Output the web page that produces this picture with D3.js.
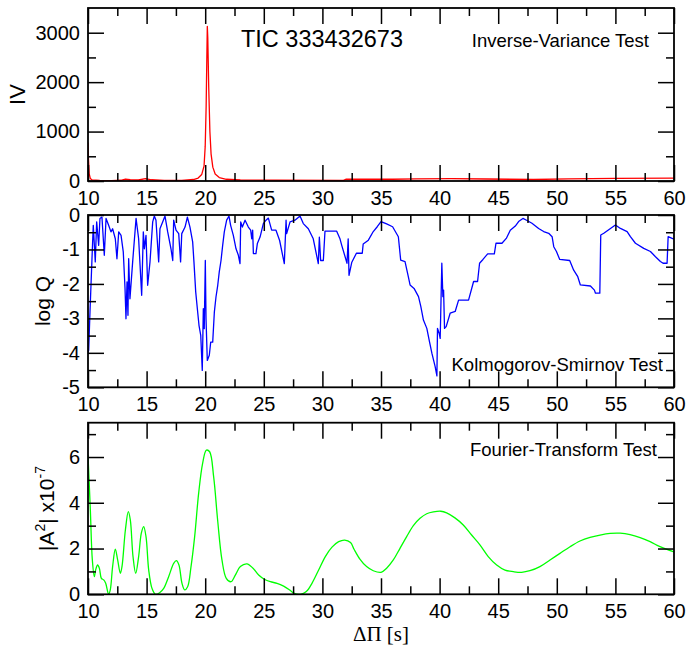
<!DOCTYPE html>
<html>
<head>
<meta charset="utf-8">
<script src="https://cdn.jsdelivr.net/npm/d3@7"></script>
<style>
  html, body { margin: 0; padding: 0; background: #fff; }
  svg { display: block; font-family: "Liberation Sans", Arial, Helvetica, sans-serif; }
</style>
</head>
<body>
<svg id="chart" width="688" height="650"></svg>
<script>
// ---------- data ----------
const xTicksMajor = [10, 15, 20, 25, 30, 35, 40, 45, 50, 55, 60];
const xTicksMinor = [12.5, 17.5, 22.5, 27.5, 32.5, 37.5, 42.5, 47.5, 52.5, 57.5];

const ivTicksMajor = [0, 1000, 2000, 3000];
const ivTicksMinor = [500, 1500, 2500];
const ksTicksMajor = [0, -1, -2, -3, -4, -5];
const ksTicksMinor = [-0.5, -1.5, -2.5, -3.5, -4.5];
const ftTicksMajor = [0, 2, 4, 6];
const ftTicksMinor = [1, 3, 5, 7];

// Inverse-variance test
const ivX = [10.0, 10.04, 10.1, 10.2, 10.35, 11, 12, 12.8, 13.2, 13.6, 14.3, 14.9, 15.4, 16.5, 18, 19, 19.4, 19.7, 19.9,
  20.0, 20.08, 20.14, 20.18, 20.22, 20.3, 20.4, 20.5, 20.65, 20.85, 21.2, 21.8, 23, 26, 31.8, 32.0, 36, 38, 41, 44, 48, 51, 55, 60];
const ivY = [780, 450, 150, 50, 20, 12, 8, 15, 40, 25, 20, 50, 25, 10, 12, 30, 60, 130, 300,
  700, 1500, 2500, 3130, 2900, 1900, 1000, 550, 280, 140, 70, 35, 20, 15, 12, 35, 35, 45, 50, 40, 30, 45, 55, 60];

// Kolmogorov-Smirnov test (log Q)
const ksX = [10.0, 10.06, 10.17, 10.34, 10.45, 10.62, 10.74, 10.91, 11.02, 11.19, 11.39, 11.54, 11.76, 11.96, 12.1, 12.33, 12.47, 12.62, 12.82,
  13.01, 13.16, 13.24, 13.33, 13.41, 13.47, 13.58, 13.81, 14.1, 14.32, 14.58, 14.72, 14.81, 14.95, 15.09, 15.29, 15.52, 15.66, 15.8,
  16.03, 16.14, 16.37, 16.57, 16.8, 17.08, 17.23, 17.31, 17.51, 17.74, 17.9, 18.0, 18.28, 18.48, 18.7, 18.93, 19.04, 19.19, 19.33,
  19.47, 19.62, 19.75, 19.84, 19.92, 20.01, 20.07, 20.18, 20.35, 20.47, 20.64, 20.78, 20.92, 21.07, 21.2, 21.35, 21.49, 21.63, 21.83,
  22.03, 22.17, 22.4, 22.63, 22.83, 22.97, 23.03, 23.17, 23.4, 23.68, 23.88, 23.97, 24.05, 24.11, 24.33, 24.45, 24.68, 24.96, 25.19,
  25.39, 25.67, 26.04, 26.35, 26.75, 26.9, 26.95, 27.24, 27.66, 28.09, 28.37, 28.8, 29.22, 29.65, 29.74, 29.85, 30.08, 30.22, 31.22,
  31.49, 31.65, 32.1, 32.2, 32.27, 32.5, 32.9, 33.4, 33.48, 33.92, 34.34, 34.68, 35.0, 35.48, 35.99, 36.48, 36.68, 37.05, 37.33, 37.48,
  37.82, 38.2, 38.4, 38.62, 38.91, 39.14, 39.34, 39.62, 39.77, 39.82, 39.96, 40.05, 40.19, 40.28, 40.34, 40.42, 40.56, 40.9, 41.33,
  41.62, 42.47, 42.9, 43.24, 43.41, 43.7, 44.1, 44.67, 44.81, 45.32, 45.69, 46.03, 46.46, 46.74, 47.11, 47.46, 47.88, 48.45, 48.88,
  49.31, 49.6, 49.74, 49.97, 50.25, 51.1, 51.44, 51.79, 52.01, 52.87, 53.21, 53.3, 53.67, 53.75, 54.01, 54.58, 55.0, 55.43, 56.0,
  56.28, 56.71, 57.42, 57.99, 58.42, 58.84, 59.07, 59.41, 59.5, 60.0];
const ksY = [-4.0, -3.92, -2.81, -1.27, -0.3, -1.36, -0.2, -0.88, -0.1, -0.06, -1.17, -0.1, -0.3, -0.49, -0.4, -0.69, -1.27, -0.49, -0.59,
  -1.07, -2.14, -3.01, -1.94, -2.91, -1.27, -2.43, -1.36, -0.1, -0.69, -2.33, -0.49, -0.98, -0.59, -2.04, -1.36, -0.2, -0.03, -0.15,
  -1.36, -0.4, -0.2, -0.03, -0.49, -0.98, -1.32, -0.15, -0.44, -0.54, -1.36, -0.54, -0.35, -0.06, -0.35, -0.78, -1.36, -2.23, -2.72,
  -3.2, -3.49, -4.51, -2.72, -3.3, -1.32, -3.01, -4.22, -4.07, -3.69, -3.69, -2.82, -2.38, -2.04, -1.65, -1.32, -0.88, -0.49, -0.15,
  -0.03, -0.3, -0.59, -0.98, -1.17, -1.41, -0.2, -0.35, -0.15, -0.35, -0.44, -0.69, -0.44, -1.12, -1.12, -0.83, -0.64, -0.25, -0.15,
  -0.09, -0.44, -0.44, -0.74, -1.41, -0.15, -0.54, -0.2, -0.15, -0.03, -0.25, -0.4, -0.69, -1.41, -0.64, -1.32, -1.32, -0.47, -0.47,
  -0.68, -0.88, -1.4, -0.69, -1.75, -1.38, -1.11, -1.11, -0.84, -0.73, -0.48, -0.34, -0.19, -0.26, -0.34, -0.63, -1.31, -1.35, -1.79, -2.03,
  -2.13, -2.37, -2.66, -3.05, -3.29, -3.68, -4.01, -4.4, -4.67, -3.29, -3.43, -3.58, -1.4, -2.37, -2.18, -3.29, -3.24, -2.85, -2.8,
  -2.47, -2.47, -1.93, -1.93, -1.4, -1.29, -1.13, -1.13, -0.82, -0.82, -0.68, -0.44, -0.32, -0.19, -0.1, -0.16, -0.24, -0.39, -0.48,
  -0.53, -0.63, -0.92, -1.06, -1.29, -1.32, -1.6, -1.79, -2.03, -2.06, -2.18, -2.27, -2.27, -0.58, -0.53, -0.39, -0.29, -0.39, -0.48,
  -0.63, -0.82, -0.97, -1.06, -1.21, -1.35, -1.4, -1.4, -0.63, -0.7];

// Fourier-transform test (|A^2| x 1e-7)
const ftX = [10.0, 10.2, 10.37, 10.54, 10.65, 10.82, 10.97, 11.14, 11.34, 11.51, 11.76, 11.9, 12.1, 12.33, 12.53, 12.76, 12.9, 13.19,
  13.44, 13.61, 13.84, 14.07, 14.32, 14.55, 14.75, 14.95, 15.18, 15.46, 15.75, 16.11, 16.46, 16.88, 17.31, 17.54, 17.76, 18.02, 18.25,
  18.5, 18.79, 19.1, 19.44, 19.78, 20.1, 20.38, 20.72, 21.06, 21.43, 21.8, 22.2, 22.57, 23.0, 23.56, 24.08, 24.56, 25.04, 25.56, 26.13,
  26.69, 27.21, 27.6, 28.12, 28.63, 29.11, 29.68, 30.25, 30.82, 31.39, 31.9, 32.4, 32.7, 33.2, 33.77, 34.34, 35.0, 35.48, 36.05,
  36.62, 37.19, 37.76, 38.33, 38.9, 39.47, 40.1, 40.6, 41.31, 42.02, 42.73, 43.44, 44.15, 44.87, 45.58, 46.29, 47.0, 47.71, 48.56,
  49.42, 50.27, 51.13, 51.98, 52.84, 53.69, 54.55, 55.4, 56.25, 57.11, 57.96, 58.81, 60.0];
const ftY = [6.09, 3.68, 1.5, 0.77, 1.06, 1.28, 1.14, 0.7, 0.63, 0.48, 0.0, 0.19, 1.21, 1.97, 1.5, 0.92, 1.21, 2.81,
  3.61, 3.25, 1.65, 0.92, 1.65, 2.67, 2.96, 2.52, 1.06, 0.26, 0.0, 0.07, 0.26, 0.77, 1.35, 1.47, 1.28, 0.48, 0.19,
  0.33, 1.21, 2.52, 4.41, 5.72, 6.3, 6.23, 5.14, 3.25, 1.5, 0.7, 0.55, 0.84, 1.21, 1.33, 1.14, 0.84, 0.66, 0.55, 0.48,
  0.36, 0.19, 0.04, 0.0, 0.12, 0.48, 1.06, 1.65, 2.06, 2.3, 2.37, 2.26, 1.97, 1.54, 1.21, 1.03, 0.96, 1.14, 1.5,
  2.01, 2.52, 3.0, 3.32, 3.52, 3.6, 3.63, 3.56, 3.34, 3.03, 2.59, 2.16, 1.65, 1.28, 1.06, 0.99, 0.96, 1.03, 1.21,
  1.5, 1.79, 2.08, 2.33, 2.49, 2.59, 2.66, 2.67, 2.61, 2.48, 2.3, 2.08, 1.85];

// ---------- layout ----------
const L = 88, R = 674;
const svg = d3.select("#chart");
const x = d3.scaleLinear().domain([10, 60]).range([L, R]);
const fmt = d => String(d);

const panels = [
  { top: 8, bottom: 181, domain: [0, 3500], major: ivTicksMajor, minor: ivTicksMinor,
    xs: ivX, ys: ivY, color: "#ff0000", curve: d3.curveLinear },
  { top: 215, bottom: 387.3, domain: [-5, 0], major: ksTicksMajor, minor: ksTicksMinor,
    xs: ksX, ys: ksY, color: "#0000ff", curve: d3.curveLinear },
  { top: 422.7, bottom: 594.3, domain: [0, 7.5], major: ftTicksMajor, minor: ftTicksMinor,
    xs: ftX, ys: ftY, color: "#00ff00", curve: d3.curveCatmullRom.alpha(0.5) }
];

panels.forEach((p, i) => {
  const y = d3.scaleLinear().domain(p.domain).range([p.bottom, p.top]);
  const g = svg.append("g");
  const clipId = "clip" + i;
  svg.append("clipPath").attr("id", clipId).append("rect")
    .attr("x", L).attr("y", p.top).attr("width", R - L).attr("height", p.bottom - p.top);

  // data line
  const pts = p.xs.map((v, k) => [v, p.ys[k]]);
  g.append("path")
    .datum(pts)
    .attr("clip-path", `url(#${clipId})`)
    .attr("fill", "none")
    .attr("stroke", p.color)
    .attr("stroke-width", 1.3)
    .attr("stroke-linejoin", "round")
    .attr("d", d3.line().x(d => x(d[0])).y(d => y(d[1])).curve(p.curve));

  const styleAxis = sel => {
    sel.select(".domain").remove();
    sel.selectAll("line").attr("stroke", "#000").attr("stroke-width", 1.5);
    sel.selectAll("text").attr("fill", "#000").attr("font-size", 20)
      .attr("font-family", "'Liberation Sans', Arial, sans-serif");
  };

  // bottom axis (labels)
  g.append("g").attr("transform", `translate(0,${p.bottom})`)
    .call(d3.axisBottom(x).tickValues(xTicksMajor).tickSize(-16).tickPadding(10).tickFormat(fmt))
    .call(styleAxis);
  g.append("g").attr("transform", `translate(0,${p.bottom})`)
    .call(d3.axisBottom(x).tickValues(xTicksMinor).tickSize(-8).tickFormat(""))
    .call(styleAxis);
  // top axis (ticks only)
  g.append("g").attr("transform", `translate(0,${p.top})`)
    .call(d3.axisTop(x).tickValues(xTicksMajor).tickSize(-16).tickFormat(""))
    .call(styleAxis);
  g.append("g").attr("transform", `translate(0,${p.top})`)
    .call(d3.axisTop(x).tickValues(xTicksMinor).tickSize(-8).tickFormat(""))
    .call(styleAxis);
  // left axis
  g.append("g").attr("transform", `translate(${L},0)`)
    .call(d3.axisLeft(y).tickValues(p.major).tickSize(-16).tickPadding(8).tickFormat(fmt))
    .call(styleAxis);
  g.append("g").attr("transform", `translate(${L},0)`)
    .call(d3.axisLeft(y).tickValues(p.minor.filter(v => v > p.domain[0] && v < p.domain[1])).tickSize(-8).tickFormat(""))
    .call(styleAxis);
  // right axis
  g.append("g").attr("transform", `translate(${R},0)`)
    .call(d3.axisRight(y).tickValues(p.major).tickSize(-16).tickFormat(""))
    .call(styleAxis);
  g.append("g").attr("transform", `translate(${R},0)`)
    .call(d3.axisRight(y).tickValues(p.minor.filter(v => v > p.domain[0] && v < p.domain[1])).tickSize(-8).tickFormat(""))
    .call(styleAxis);

  // frame
  g.append("rect")
    .attr("x", L).attr("y", p.top).attr("width", R - L).attr("height", p.bottom - p.top)
    .attr("fill", "none").attr("stroke", "#000").attr("stroke-width", 1.8);
});

// ---------- texts ----------
svg.append("text").attr("x", 322).attr("y", 47).attr("text-anchor", "middle")
  .attr("font-size", 23.5).text("TIC 333432673");
svg.append("text").attr("x", 649).attr("y", 46.5).attr("text-anchor", "end")
  .attr("font-size", 18.5).text("Inverse-Variance Test");
svg.append("text").attr("x", 663).attr("y", 370.5).attr("text-anchor", "end")
  .attr("font-size", 18.5).text("Kolmogorov-Smirnov Test");
svg.append("text").attr("x", 657).attr("y", 456).attr("text-anchor", "end")
  .attr("font-size", 18.5).text("Fourier-Transform Test");

svg.append("text").attr("transform", "translate(25,94.5) rotate(-90)")
  .attr("text-anchor", "middle").attr("font-size", 22).text("IV");
svg.append("text").attr("transform", "translate(50,301) rotate(-90)")
  .attr("text-anchor", "middle").attr("font-size", 21).text("log Q");

const aLab = svg.append("text").attr("transform", "translate(54,508.5) rotate(-90)")
  .attr("text-anchor", "middle").attr("font-size", 21);
aLab.append("tspan").text("|A");
aLab.append("tspan").attr("dy", -9).attr("font-size", 14).text("2");
aLab.append("tspan").attr("dy", 9).text("| x10");
aLab.append("tspan").attr("dy", -9).attr("font-size", 14).text("-7");

svg.append("text").attr("x", 381).attr("y", 641).attr("text-anchor", "middle")
  .attr("font-family", "'Liberation Serif', 'Times New Roman', serif")
  .attr("font-size", 21).text("ΔΠ [s]");
</script>
</body>
</html>
